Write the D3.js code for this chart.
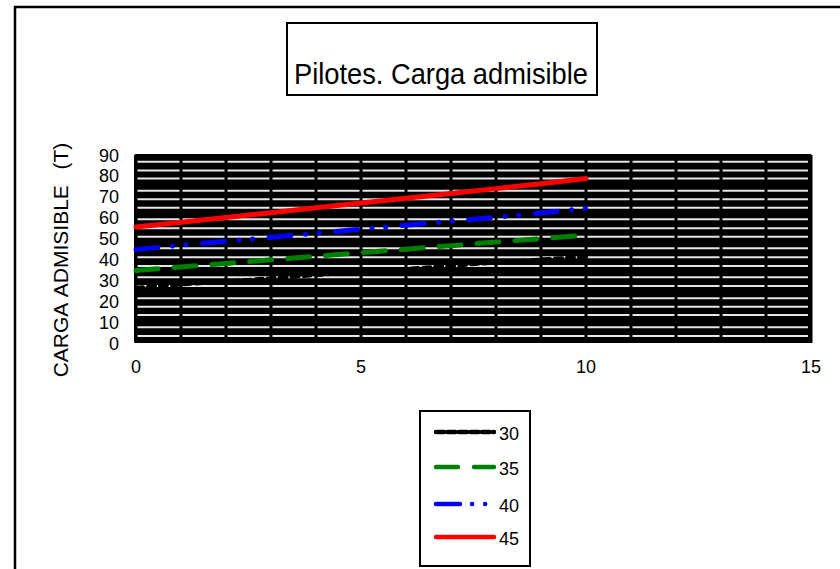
<!DOCTYPE html>
<html>
<head>
<meta charset="utf-8">
<script src="https://cdn.jsdelivr.net/npm/d3@7"></script>
<style>
  html, body { margin: 0; padding: 0; background: #fff; }
  svg { display: block; font-family: "Liberation Sans", Arial, sans-serif; }
</style>
</head>
<body>
<svg id="chart" width="840" height="569"></svg>
<script>
// Longitud del pilote (eje X)
const xValues = [0, 1, 2, 3, 4, 5, 6, 7, 8, 9, 10];

// Carga admisible (T) por serie
const serie30 = [26.5, 28.0, 29.5, 31.0, 32.5, 34.0, 35.5, 37.0, 38.5, 40.0, 41.3];
const serie35 = [34.7, 36.4, 38.1, 39.8, 41.5, 43.2, 44.9, 46.6, 48.3, 50.0, 51.6];
const serie40 = [44.8, 46.8, 48.7, 50.6, 52.5, 54.5, 56.4, 58.3, 60.2, 62.2, 64.5];
const serie45 = [55.5, 57.8, 60.1, 62.4, 64.7, 67.0, 69.3, 71.6, 73.9, 76.2, 78.8];

const seriesNames = ["30", "35", "40", "45"];
const xTicks = [0, 5, 10, 15];
const yTicks = [0, 10, 20, 30, 40, 50, 60, 70, 80, 90];
// Niveles de las bandas claras del fondo del gráfico
const bandLevels = [86.8, 82.6, 78.8, 72.9, 68.8, 64.8, 59.2, 54.9, 50.9, 45.3,
                    41.0, 36.9, 31.5, 27.3, 21.4, 17.4, 13.4, 7.5, 3.4];
const xGrid = [0, 1, 2, 3, 4, 5, 6, 7, 8, 9, 10, 11, 12, 13, 14, 15];

const styles = {
  "30": { color: "#000000", dash: "7,5", width: 4 },
  "35": { color: "#008000", dash: "22,16", width: 5 },
  "40": { color: "#0000ff", dash: "22,14.5,0.1,13.6,0.1,16.5", width: 5 },
  "45": { color: "#ff0000", dash: null, width: 5 }
};
const legendDash = {
  "30": "8,3.5",
  "35": "22,16",
  "40": "24,12,0.1,13,0.1,14"
};

const svg = d3.select("#chart");

// Marco exterior
svg.append("path")
  .attr("d", "M15,569 L15,7 L840,7")
  .attr("fill", "none").attr("stroke", "#000").attr("stroke-width", 2.5);

// Título
svg.append("rect")
  .attr("x", 287).attr("y", 23).attr("width", 310).attr("height", 72)
  .attr("fill", "#fff").attr("stroke", "#000").attr("stroke-width", 2);
svg.append("text")
  .attr("x", 294).attr("y", 84)
  .attr("font-size", 30)
  .attr("textLength", 294).attr("lengthAdjust", "spacingAndGlyphs")
  .text("Pilotes. Carga admisible");

const x = d3.scaleLinear().domain([0, 15]).range([136, 811]);
const y = d3.scaleLinear().domain([0, 90]).range([343, 155]);

// Área de trazado
svg.append("rect")
  .attr("x", 134).attr("y", 154).attr("width", 678).attr("height", 189)
  .attr("rx", 2).attr("fill", "#000");

const plot = svg.append("g");
plot.selectAll("line.band").data(bandLevels).join("line")
  .attr("class", "band")
  .attr("x1", x(0) + 1).attr("x2", x(15) - 3)
  .attr("y1", d => y(d)).attr("y2", d => y(d))
  .attr("stroke", "#e6e6e6").attr("stroke-width", 2);

plot.selectAll("line.vgrid").data(xGrid).join("line")
  .attr("class", "vgrid")
  .attr("x1", d => x(d)).attr("x2", d => x(d))
  .attr("y1", y(90)).attr("y2", y(0))
  .attr("stroke", "#000").attr("stroke-width", 3);

const series = [serie30, serie35, serie40, serie45];
const line = d3.line().x((d, i) => x(xValues[i])).y(d => y(d));

series.forEach((vals, k) => {
  const s = styles[seriesNames[k]];
  plot.append("path")
    .datum(vals)
    .attr("d", line)
    .attr("fill", "none")
    .attr("stroke", s.color)
    .attr("stroke-width", s.width)
    .attr("stroke-linecap", "round")
    .attr("stroke-dasharray", s.dash);
});

// Ejes
const yAxis = svg.append("g");
yAxis.selectAll("text").data(yTicks).join("text")
  .attr("x", 119).attr("y", d => y(d) + 6.5)
  .attr("text-anchor", "end").attr("font-size", 18)
  .text(d => d);

const xAxis = svg.append("g");
xAxis.selectAll("text").data(xTicks).join("text")
  .attr("x", d => x(d)).attr("y", 373)
  .attr("text-anchor", "middle").attr("font-size", 18)
  .text(d => d);

svg.append("text")
  .attr("transform", "translate(68,260) rotate(-90)")
  .attr("text-anchor", "middle").attr("font-size", 21)
  .attr("word-spacing", 2)
  .style("white-space", "pre")
  .text("CARGA ADMISIBLE  (T)");

// Leyenda
svg.append("rect")
  .attr("x", 420).attr("y", 411).attr("width", 110).attr("height", 155)
  .attr("fill", "#fff").attr("stroke", "#000").attr("stroke-width", 2);

const legendY = [432, 467, 504, 537];
const leg = svg.append("g").selectAll("g").data(seriesNames).join("g")
  .attr("transform", (d, i) => `translate(0,${legendY[i]})`);
leg.append("line")
  .attr("x1", 436).attr("x2", 494).attr("y1", 0).attr("y2", 0)
  .attr("stroke", d => styles[d].color)
  .attr("stroke-width", 4.5)
  .attr("stroke-linecap", "round")
  .attr("stroke-dasharray", d => legendDash[d] || null);
leg.append("text")
  .attr("x", 499).attr("y", 8).attr("font-size", 18)
  .text(d => d);
</script>
</body>
</html>
